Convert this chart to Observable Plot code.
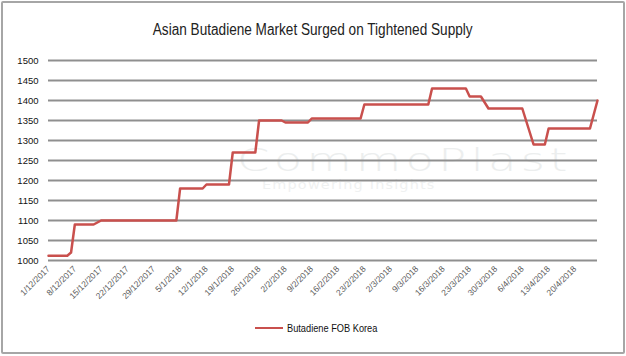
<!DOCTYPE html>
<html>
<head>
<meta charset="utf-8">
<script src="https://cdn.jsdelivr.net/npm/d3@7"></script>
<script src="https://cdn.jsdelivr.net/npm/@observablehq/plot@0.6"></script>
<style>
  html, body { margin: 0; padding: 0; background: #fff; }
  #wrap { position: relative; width: 626px; height: 356px; overflow: hidden; background: #fff; }
  #frame { position: absolute; left: 1px; top: 1px; width: 620px; height: 349px; border: 2px solid #a6a6a6; border-radius: 2px; }
  #title { position: absolute; left: 0; top: 20px; width: 626px; text-align: center; font-family: "Liberation Sans", Arial, sans-serif; font-size: 16px; line-height: 20px; color: #222; transform: scaleX(0.85); transform-origin: 311px 0; }
  #chart { position: absolute; left: 0; top: 0; }
  #wm { position: absolute; left: 237px; top: 144px; font-family: "DejaVu Sans", sans-serif; font-weight: 200; font-size: 32px; line-height: 32px; letter-spacing: 3px; color: #eceeee; transform: scaleX(1.45); transform-origin: 0 0; }
  #wm2 { position: absolute; left: 262px; top: 178px; font-family: "DejaVu Sans", sans-serif; font-size: 12px; line-height: 14px; letter-spacing: 1px; color: #eff1f1; transform: scaleX(1.2); transform-origin: 0 0; }
  #legend { position: absolute; left: 255px; top: 321px; font-family: "Liberation Sans", Arial, sans-serif; font-size: 11px; line-height: 14px; color: #111; display: flex; align-items: center; }
  #legend .sw { width: 28px; height: 0; border-top: 2.5px solid #c9504d; margin-right: 4px; }
  #legend .tx { display: inline-block; transform: scaleX(0.84); transform-origin: 0 0; }
</style>
</head>
<body>
<div id="wrap">
  <div id="wm">CommoPlast</div>
  <div id="wm2">Empowering Insights</div>
  <div id="chart"></div>
  <div id="title">Asian Butadiene Market Surged on Tightened Supply</div>
  <div id="legend"><span class="sw"></span><span class="tx">Butadiene FOB Korea</span></div>
  <div id="frame"></div>
</div>
<script>
const dates = [
  "2017-12-01","2017-12-06","2017-12-07","2017-12-08","2017-12-13","2017-12-15",
  "2018-01-04","2018-01-05","2018-01-11","2018-01-12","2018-01-18","2018-01-19",
  "2018-01-25","2018-01-26","2018-02-01","2018-02-02","2018-02-08","2018-02-09",
  "2018-02-22","2018-02-23","2018-03-12","2018-03-13","2018-03-22","2018-03-23",
  "2018-03-26","2018-03-28","2018-04-06","2018-04-09","2018-04-12","2018-04-13",
  "2018-04-24","2018-04-26"
];
const prices = [
  1012,1012,1020,1090,1090,1100,
  1100,1180,1180,1190,1190,1270,
  1270,1350,1350,1345,1345,1355,
  1355,1390,1390,1430,1430,1410,
  1410,1380,1380,1290,1290,1330,
  1330,1400
];
const tickDates = [
  "2017-12-01","2017-12-08","2017-12-15","2017-12-22","2017-12-29",
  "2018-01-05","2018-01-12","2018-01-19","2018-01-26","2018-02-02",
  "2018-02-09","2018-02-16","2018-02-23","2018-03-02","2018-03-09",
  "2018-03-16","2018-03-23","2018-03-30","2018-04-06","2018-04-13","2018-04-20"
];
const yTicks = [1000,1050,1100,1150,1200,1250,1300,1350,1400,1450,1500];
const seriesName = "Butadiene FOB Korea";

const data = dates.map((d, i) => ({date: new Date(d), price: prices[i]}));
const fmt = d => `${d.getUTCDate()}/${d.getUTCMonth() + 1}/${d.getUTCFullYear()}`;

const chart = Plot.plot({
  width: 626,
  height: 310,
  marginTop: 60,
  marginBottom: 50,
  marginLeft: 48,
  marginRight: 29,
  style: {background: "transparent", fontFamily: "Liberation Sans, Arial, sans-serif"},
  x: {type: "utc", domain: [new Date(dates[0]), new Date(dates[dates.length - 1])]},
  y: {domain: [1000, 1500]},
  marks: [
    Plot.gridY(yTicks, {stroke: "#8f8f8f", strokeOpacity: 1, strokeWidth: 2}),
    Plot.axisY(yTicks, {tickSize: 0, tickPadding: 10, label: null, fontSize: 9.5, fill: "#111", tickFormat: d => String(d)}),
    Plot.axisX(tickDates.map(d => new Date(d)), {
      tickSize: 0, tickPadding: 7, tickRotate: -45, tickFormat: fmt,
      label: null, fontSize: 8.5, fill: "#595959"
    }),
    Plot.line(data, {x: "date", y: "price", stroke: "#c9504d", strokeWidth: 2.5, title: () => seriesName})
  ]
});
document.getElementById("chart").appendChild(chart);
</script>
</body>
</html>
